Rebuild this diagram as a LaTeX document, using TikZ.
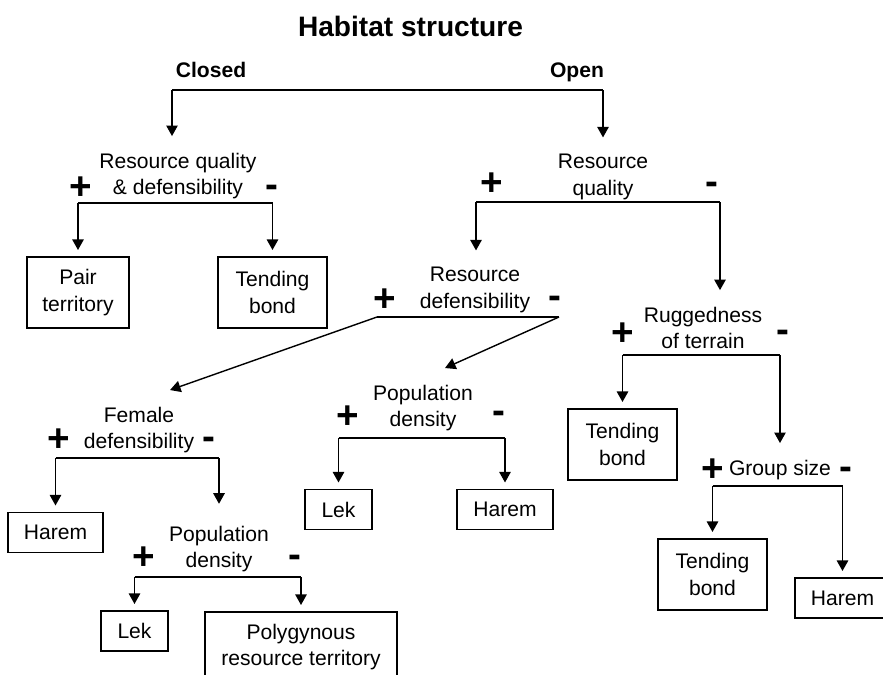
\documentclass[tikz,border=0pt]{standalone}
\usepackage{fontspec}
\setmainfont{Liberation Sans}
\usetikzlibrary{calc,arrows.meta}

\begin{document}
\begin{tikzpicture}[x=0.02cm,y=-0.02cm,
  font=\fontsize{12}{15.3}\selectfont,
  line width=0.8pt,
  arr/.style={-{Triangle[length=6pt,width=6.5pt]}},
  lbl/.style={align=center, inner sep=0pt, outer ysep=9.5pt},
  sign/.style={font=\fontsize{22}{22}\selectfont\bfseries, inner sep=0pt},
  outcome/.style={draw, line width=1.1pt, align=center, inner sep=0pt, outer sep=4pt, minimum height=1.42cm},
  lowbox/.style={outcome, minimum height=0.8cm}]
  \useasboundingbox (0,0) rectangle (883,674);

  \node[anchor=base] (title) at (410.5,36.7) {\fontsize{16}{19}\selectfont\bfseries Habitat structure};
  \node[anchor=base] (closed) at (211,77.7) {\bfseries Closed};
  \node[anchor=base] (open) at (577,77.7) {\bfseries Open};

  \node[lbl] (rqd) at (178,176) {Resource quality\\\& defensibility};
  \node[lbl] (rq) at (603,177) {Resource\\quality};
  \node[lbl] (rdef) at (475,290) {Resource\\defensibility};
  \node[lbl] (rug) at (703,328) {Ruggedness\\of terrain};
  \node[lbl] (fd) at (139,430) {Female\\defensibility};
  \node[lbl] (pd2) at (423,408) {Population\\density};
  \node[lbl, outer ysep=12.5pt] (pd1) at (219,549) {Population\\density};
  \node[lbl, anchor=base] (gs) at (780,475) {Group size};

  \node[sign] (rqdP) at (81,188) {+};
  \node[sign] (rqdM) at (272,191) {-};
  \node[sign] (rqP) at (492,184) {+};
  \node[sign] (rqM) at (712,188) {-};
  \node[sign] (rdefP) at (385,300) {+};
  \node[sign] (rdefM) at (555,302) {-};
  \node[sign] (rugP) at (623,334) {+};
  \node[sign] (rugM) at (783,336) {-};
  \node[sign] (fdP) at (59,440) {+};
  \node[sign] (fdM) at (209,443) {-};
  \node[sign] (pd2P) at (348,417) {+};
  \node[sign] (pd2M) at (499,417) {-};
  \node[sign] (pd1P) at (144,558) {+};
  \node[sign] (pd1M) at (295,561) {-};
  \node[sign] (gsP) at (713,470) {+};
  \node[sign] (gsM) at (846,473) {-};

  \node[outcome, minimum width=2.04cm] (pair1) at (78,292.5) {Pair\\territory};
  \node[outcome, minimum width=2.18cm] (tend1) at (272.5,292.5) {Tending\\bond};
  \node[outcome, minimum width=2.18cm] (tend2) at (622.5,444.5) {Tending\\bond};
  \node[outcome, minimum width=2.18cm] (tend3) at (712.5,574.5) {Tending\\bond};
  \node[lowbox, minimum width=1.9cm] (harem1) at (55.5,532.5) {Harem};
  \node[lowbox, minimum width=1.92cm] (harem2) at (505,509.5) {Harem};
  \node[lowbox, minimum width=1.9cm] (harem3) at (842.5,598) {Harem};
  \node[lowbox, minimum width=1.34cm] (lek1) at (134.5,631) {Lek};
  \node[lowbox, minimum width=1.34cm] (lek2) at (338.5,509.5) {Lek};
  \node[outcome, minimum width=3.84cm, minimum height=1.4cm] (poly) at (301,647) {Polygynous\\resource territory};

  \coordinate (topL) at (172,90);
  \coordinate (topR) at (603,90);
  \draw (topL) -- (topR);
  \draw[arr] (topL) -- (topL |- rqd.north);
  \draw[arr] (topR) -- (rq);

  \coordinate (rqdF) at (0,203);
  \draw (pair1 |- rqdF) -- (tend1 |- rqdF);
  \draw[arr] (pair1 |- rqdF) -- (pair1);
  \draw[arr] (tend1 |- rqdF) -- (tend1);

  \coordinate (rqL) at (476,202);
  \coordinate (rqR) at (720,202);
  \draw (rqL) -- (rqR);
  \draw[arr] (rqL) -- (rqL |- rdef.north);
  \draw[arr] (rqR) -- (rqR |- rug.north);

  \coordinate (rdefL) at (377,317);
  \coordinate (rdefR) at (559,317);
  \draw (rdefL) -- (rdefR);
  \draw[arr] (rdefL) -- ($(fd.north)+(31,0)$);
  \draw[arr] (rdefR) -- ($(pd2.north)+(22,0)$);

  \coordinate (rugF) at (0,355);
  \draw (tend2 |- rugF) -- (gs |- rugF);
  \draw[arr] (tend2 |- rugF) -- (tend2);
  \draw[arr] (gs |- rugF) -- (gs);

  \coordinate (fdF) at (0,458);
  \draw (harem1 |- fdF) -- (pd1 |- fdF);
  \draw[arr] (harem1 |- fdF) -- (harem1);
  \draw[arr] (pd1 |- fdF) -- (pd1);

  \coordinate (pd2F) at (0,438);
  \draw (lek2 |- pd2F) -- (harem2 |- pd2F);
  \draw[arr] (lek2 |- pd2F) -- (lek2);
  \draw[arr] (harem2 |- pd2F) -- (harem2);

  \coordinate (gsF) at (0,486);
  \draw (tend3 |- gsF) -- (harem3 |- gsF);
  \draw[arr] (tend3 |- gsF) -- (tend3);
  \draw[arr] (harem3 |- gsF) -- (harem3);

  \coordinate (pd1F) at (0,577);
  \draw (lek1 |- pd1F) -- (poly |- pd1F);
  \draw[arr] (lek1 |- pd1F) -- (lek1);
  \draw[arr] (poly |- pd1F) -- (poly);
\end{tikzpicture}
\end{document}
